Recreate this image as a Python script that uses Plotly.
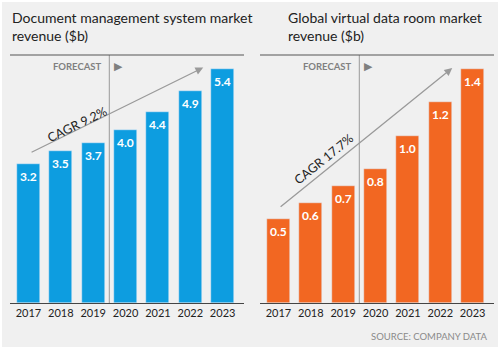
import plotly.graph_objects as go

years = ["2017", "2018", "2019", "2020", "2021", "2022", "2023"]
dms_values = [3.2, 3.5, 3.7, 4.0, 4.4, 4.9, 5.4]
vdr_values = [0.5, 0.6, 0.7, 0.8, 1.0, 1.2, 1.4]
titles = ["Document management system market<br>revenue ($b)",
          "Global virtual data room market<br>revenue ($b)"]
cagr_labels = ["CAGR 9.2%", "CAGR 17.7%"]

BLUE = "#0d9de0"
ORANGE = "#f26722"
BG = "#f0f0f0"
FONT = "Lato"

fig = go.Figure()
xi = list(range(len(years)))

fig.add_trace(go.Bar(x=xi, y=dms_values, marker_color=BLUE, width=0.71,
                     xaxis="x", yaxis="y", hoverinfo="skip"))
fig.add_trace(go.Bar(x=xi, y=vdr_values, marker_color=ORANGE, width=0.71,
                     xaxis="x2", yaxis="y2", hoverinfo="skip"))

ann = []
shapes = []
for k, (vals, ax, ay, ymax, tx, ang, arrow, tpos) in enumerate([
        (dms_values, "x", "y", 5.72, 0.02, -26, (0.05, 3.46, 5.40, 5.43), (1.50, 4.12)),
        (vdr_values, "x2", "y2", 1.483, 0.572, -39, (0.02, 0.568, 5.37, 1.405), (1.38, 0.86))]):
    for i, v in enumerate(vals):
        ann.append(dict(x=i, y=v, xref=ax, yref=ay, text="<b>%.1f</b>" % v,
                        showarrow=False, yanchor="top", yshift=-3,
                        font=dict(color="white", size=12, family=FONT)))
    # title
    ann.append(dict(x=tx, y=1 - 7/349, xref="paper", yref="paper", text=titles[k],
                    showarrow=False, xanchor="left", yanchor="top", align="left",
                    font=dict(color="#222", size=14, family=FONT)))
    # forecast label
    ann.append(dict(x=2.5, y=ymax, xref=ax, yref=ay, text="<b>FORECAST</b>",
                    showarrow=False, xanchor="right", yanchor="top", xshift=-5, yshift=-4,
                    font=dict(color="#808080", size=9.5, family=FONT)))
    ann.append(dict(x=2.5, y=ymax, xref=ax, yref=ay, text="▶",
                    showarrow=False, xanchor="left", yanchor="top", xshift=3, yshift=-3,
                    font=dict(color="#808080", size=11, family="DejaVu Sans")))
    # CAGR arrow
    x0, y0, x1, y1 = arrow
    ann.append(dict(x=x1, y=y1, ax=x0, ay=y0, xref=ax, yref=ay, axref=ax, ayref=ay,
                    text="", showarrow=True, arrowhead=2, arrowsize=1.2, arrowwidth=1.3,
                    arrowcolor="#9a9a9a"))
    ann.append(dict(x=tpos[0], y=tpos[1], xref=ax, yref=ay, text=cagr_labels[k],
                    showarrow=False, textangle=ang,
                    font=dict(color="#222", size=12.5, family=FONT)))
    # forecast vertical line
    shapes.append(dict(type="line", xref=ax, yref=ay, x0=2.5, x1=2.5, y0=0, y1=ymax,
                       line=dict(color="#a8a8a8", width=1.2)))
    # top rule
    shapes.append(dict(type="line", xref=ax + " domain", yref="paper", x0=0, x1=1,
                       y0=(349 - 55) / 349, y1=(349 - 55) / 349,
                       line=dict(color="#555", width=1.2)))

ann.append(dict(x=490/500, y=1 - 336/349, xref="paper", yref="paper",
                text="SOURCE: COMPANY DATA", showarrow=False, xanchor="right",
                yanchor="middle", font=dict(color="#8a8a8a", size=9.5, family=FONT)))

shapes.append(dict(type="rect", xref="paper", yref="paper", x0=0, x1=1, y0=0, y1=1,
                   line=dict(color="white", width=4)))

xcommon = dict(range=[-0.57, 6.66], tickvals=xi, ticktext=years, showline=True,
               linecolor="#444", linewidth=1.2, showgrid=False, zeroline=False,
               ticks="", tickfont=dict(size=11, color="#222", family=FONT), fixedrange=True)
ydom = [(349 - 303) / 349, (349 - 55) / 349]

fig.update_layout(
    width=500, height=349, margin=dict(l=0, r=0, t=0, b=0),
    paper_bgcolor=BG, plot_bgcolor=BG, showlegend=False, bargap=0,
    xaxis=dict(domain=[10/500, 244/500], anchor="y", **xcommon),
    xaxis2=dict(domain=[260/500, 494/500], anchor="y2", **xcommon),
    yaxis=dict(domain=ydom, range=[0, 5.72], visible=False, anchor="x"),
    yaxis2=dict(domain=ydom, range=[0, 1.483], visible=False, anchor="x2"),
    annotations=ann, shapes=shapes,
)

fig.write_html("out.html")
